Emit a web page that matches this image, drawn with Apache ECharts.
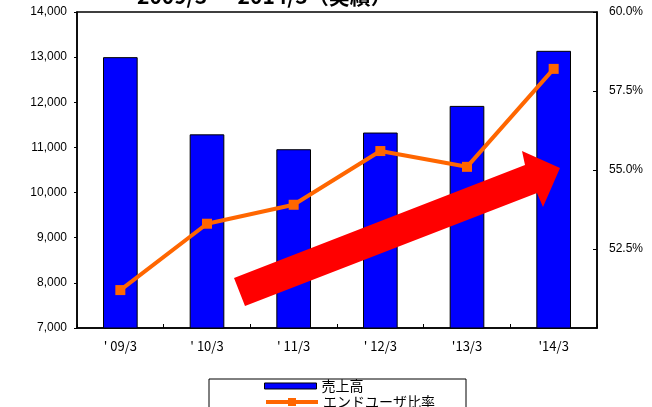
<!DOCTYPE html>
<html>
<head>
<meta charset="utf-8">
<script src="https://cdn.jsdelivr.net/npm/echarts@6/dist/echarts.min.js"></script>
<style>
  html, body { margin: 0; padding: 0; background: #fff; }
  #chart { width: 652px; height: 407px; }
</style>
</head>
<body>
<div id="chart"></div>
<script>
// Fiscal periods (March year-end)
const categories = ["' 09/3", "' 10/3", "' 11/3", "' 12/3", "'13/3", "'14/3"];
// Net sales
const sales = [13000, 11290, 10960, 11330, 11920, 13140];
// End-user ratio (%)
const endUserRatio = [51.2, 53.3, 53.9, 55.6, 55.1, 58.2];
// Axis ranges
const salesAxis = { min: 7000, max: 14000, interval: 1000 };
const ratioAxis = { min: 50, max: 60, interval: 2.5 };

const jpFont = '"Noto Sans CJK JP", "Liberation Sans", sans-serif';
const numFont = '"Liberation Sans", Arial, sans-serif';

const legendBase = {
  orient: 'vertical',
  left: 264,
  itemWidth: 52, itemHeight: 10,
  padding: 0,
  textStyle: { fontFamily: jpFont, fontSize: 14, color: '#000', padding: [0, 0, 0, 0] }
};

const chart = echarts.init(document.getElementById('chart'), null, { renderer: 'canvas' });

chart.setOption({
  animation: false,
  backgroundColor: '#ffffff',
  grid: {
    left: 77, right: 55, top: 12, bottom: 79,
    show: true, borderColor: '#000', borderWidth: 1.5,
    containLabel: false
  },
  legend: [
    Object.assign({}, legendBase, {
      top: 379,
      data: [{ name: '売上高', icon: 'path://M0,0h52v6h-52z',
        itemStyle: { color: '#0000ff', borderColor: '#000', borderWidth: 1 } }]
    }),
    Object.assign({}, legendBase, {
      top: 395,
      data: [{ name: 'エンドユーザ比率', lineStyle: { width: 4, color: '#ff6600' } }]
    })
  ],
  xAxis: {
    type: 'category',
    data: categories,
    boundaryGap: true,
    axisLine: { lineStyle: { color: '#000', width: 1.5 } },
    axisTick: { show: true, inside: true, length: 4, lineStyle: { color: '#000' } },
    axisLabel: { fontFamily: jpFont, fontSize: 13, color: '#000', margin: 12 }
  },
  yAxis: [
    {
      type: 'value', position: 'left',
      min: salesAxis.min, max: salesAxis.max, interval: salesAxis.interval,
      splitLine: { show: false },
      axisLine: { show: true, lineStyle: { color: '#000', width: 1.5 } },
      axisTick: { show: true, length: 3, lineStyle: { color: '#000' } },
      axisLabel: {
        fontFamily: numFont, fontSize: 12, color: '#000', margin: 10,
        formatter: v => v.toLocaleString('en-US')
      }
    },
    {
      type: 'value', position: 'right',
      min: ratioAxis.min, max: ratioAxis.max, interval: ratioAxis.interval,
      splitLine: { show: false },
      axisLine: { show: true, lineStyle: { color: '#000', width: 1.5 } },
      axisTick: { show: true, inside: true, length: 4, lineStyle: { color: '#000' } },
      axisLabel: {
        fontFamily: numFont, fontSize: 12, color: '#000', margin: 12,
        showMinLabel: false,
        formatter: v => v.toFixed(1) + '%'
      }
    }
  ],
  series: [
    {
      name: '売上高',
      type: 'bar',
      yAxisIndex: 0,
      data: sales,
      barWidth: '40%',
      itemStyle: { color: '#0000ff', borderColor: '#000', borderWidth: 1 },
      z: 2
    },
    {
      name: 'エンドユーザ比率',
      type: 'line',
      yAxisIndex: 1,
      data: endUserRatio,
      symbol: 'rect',
      symbolSize: 10,
      lineStyle: { color: '#ff6600', width: 4 },
      itemStyle: { color: '#ff6600' },
      z: 5
    }
  ],
  graphic: [
    {
      // heading (partially above the canvas edge)
      type: 'text',
      left: 137, top: -14,
      style: {
        text: '2009/3 ～ 2014/3（実績）',
        font: 'bold 21px "Noto Sans CJK JP", sans-serif',
        fill: '#000'
      },
      z: 10
    },
    {
      // growth arrow
      type: 'polygon',
      shape: {
        points: [[234, 278], [245, 306], [537, 193], [543, 207], [560, 168], [522, 151], [525, 165]]
      },
      style: { fill: '#ff0000' },
      z: 4
    },
    {
      // legend frame
      type: 'rect',
      shape: { x: 209, y: 379, width: 257, height: 40 },
      style: { fill: 'none', stroke: '#000', lineWidth: 1 },
      z: 1
    }
  ]
});
</script>
</body>
</html>
